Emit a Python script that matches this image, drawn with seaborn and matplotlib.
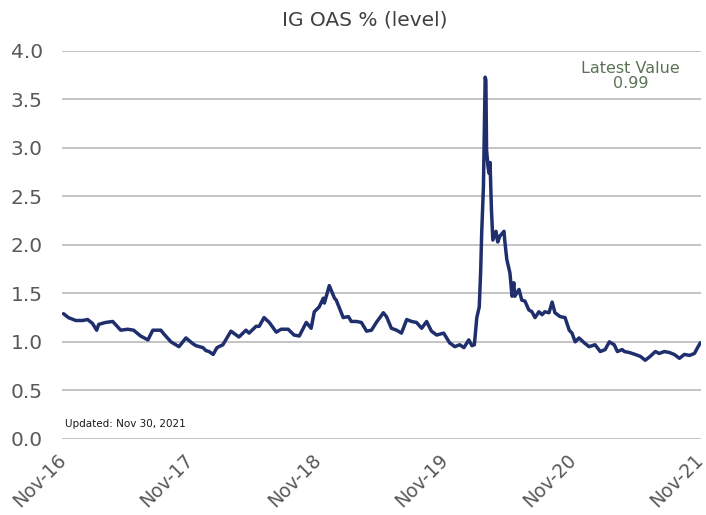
import pandas as pd
import seaborn as sns
import matplotlib.pyplot as plt
from matplotlib.transforms import ScaledTranslation

dates = [
    '2016-11-30', '2016-12-14', '2017-01-04', '2017-01-24', '2017-02-07', '2017-02-21',
    '2017-03-05', '2017-03-11', '2017-03-31', '2017-04-20', '2017-05-13', '2017-06-02',
    '2017-06-19', '2017-07-09', '2017-07-30', '2017-08-13', '2017-09-05', '2017-09-14',
    '2017-10-04', '2017-10-27', '2017-11-16', '2017-12-06', '2017-12-15', '2018-01-04',
    '2018-01-12', '2018-01-21', '2018-02-02', '2018-02-13', '2018-03-02', '2018-03-25',
    '2018-04-17', '2018-05-07', '2018-05-16', '2018-06-05', '2018-06-14', '2018-06-28',
    '2018-07-13', '2018-08-02', '2018-08-16', '2018-09-05', '2018-09-22', '2018-10-07',
    '2018-10-27', '2018-11-10', '2018-11-19', '2018-12-03', '2018-12-15', '2018-12-18',
    '2019-01-01', '2019-01-16', '2019-01-21', '2019-02-10', '2019-02-25', '2019-03-05',
    '2019-03-20', '2019-04-03', '2019-04-18', '2019-05-02', '2019-05-16', '2019-06-05',
    '2019-06-14', '2019-06-28', '2019-07-13', '2019-07-27', '2019-08-11', '2019-08-25',
    '2019-09-08', '2019-09-23', '2019-10-07', '2019-10-21', '2019-11-05', '2019-11-25',
    '2019-12-12', '2019-12-27', '2020-01-10', '2020-01-22', '2020-02-05', '2020-02-14',
    '2020-02-21', '2020-02-28', '2020-03-06', '2020-03-10', '2020-03-13', '2020-03-18',
    '2020-03-23', '2020-03-25', '2020-03-27', '2020-03-31', '2020-04-03', '2020-04-06',
    '2020-04-10', '2020-04-14', '2020-04-23', '2020-04-28', '2020-05-04', '2020-05-16',
    '2020-05-18', '2020-05-24', '2020-06-02', '2020-06-08', '2020-06-13', '2020-06-16',
    '2020-06-28', '2020-07-06', '2020-07-15', '2020-07-26', '2020-08-04', '2020-08-13',
    '2020-08-24', '2020-09-02', '2020-09-10', '2020-09-22', '2020-10-01', '2020-10-09',
    '2020-10-24', '2020-11-07', '2020-11-19', '2020-11-27', '2020-12-06', '2020-12-17',
    '2021-01-01', '2021-01-15', '2021-02-01', '2021-02-16', '2021-03-02', '2021-03-14',
    '2021-03-28', '2021-04-06', '2021-04-20', '2021-04-26', '2021-05-10', '2021-05-27',
    '2021-06-11', '2021-06-25', '2021-07-09', '2021-07-24', '2021-08-04', '2021-08-19',
    '2021-09-02', '2021-09-16', '2021-10-01', '2021-10-15', '2021-10-30', '2021-11-13',
    '2021-11-22', '2021-11-30',
]
oas = [
    1.29, 1.25, 1.22, 1.22, 1.23, 1.19,
    1.12, 1.18, 1.20, 1.21, 1.12, 1.13,
    1.12, 1.06, 1.02, 1.12, 1.12, 1.08,
    1.00, 0.95, 1.04, 0.98, 0.96, 0.94,
    0.91, 0.90, 0.87, 0.94, 0.97, 1.11,
    1.05, 1.12, 1.09, 1.16, 1.16, 1.25,
    1.20, 1.10, 1.13, 1.13, 1.07, 1.06,
    1.20, 1.14, 1.31, 1.36, 1.45, 1.40,
    1.58, 1.45, 1.43, 1.25, 1.26, 1.21,
    1.21, 1.20, 1.11, 1.12, 1.20, 1.30,
    1.26, 1.14, 1.12, 1.09, 1.23, 1.21,
    1.20, 1.14, 1.21, 1.11, 1.07, 1.09,
    0.99, 0.95, 0.97, 0.94, 1.02, 0.96,
    0.97, 1.25, 1.36, 1.72, 2.12, 2.60,
    3.73, 3.70, 2.98, 2.81, 2.74, 2.85,
    2.36, 2.05, 2.14, 2.03, 2.09, 2.14,
    2.05, 1.85, 1.71, 1.47, 1.61, 1.47,
    1.54, 1.43, 1.42, 1.33, 1.31, 1.25,
    1.31, 1.28, 1.31, 1.30, 1.41, 1.30,
    1.26, 1.25, 1.12, 1.09, 1.00, 1.04,
    0.99, 0.95, 0.97, 0.90, 0.92, 1.00,
    0.97, 0.90, 0.92, 0.90, 0.89, 0.87,
    0.85, 0.81, 0.85, 0.90, 0.88, 0.90,
    0.89, 0.87, 0.83, 0.87, 0.86, 0.88,
    0.94, 0.99,
]
tick_dates = ['2016-11-30', '2017-11-30', '2018-11-30', '2019-11-30', '2020-11-30', '2021-11-30']
tick_labels = ['Nov-16', 'Nov-17', 'Nov-18', 'Nov-19', 'Nov-20', 'Nov-21']
latest_value = 0.99

df = pd.DataFrame({'date': pd.to_datetime(dates), 'oas': oas})

sns.set_style('white')
plt.rcParams['font.family'] = ['DejaVu Sans']

fig = plt.figure(figsize=(7.06, 5.15), dpi=100)
ax = fig.add_axes([0.088, 0.148, 0.905, 0.753])

sns.lineplot(data=df, x='date', y='oas', ax=ax, color='#1f2f6e', linewidth=2.5)

ax.set_ylim(0, 4.0)
ax.set_yticks([0.0, 0.5, 1.0, 1.5, 2.0, 2.5, 3.0, 3.5, 4.0])
ax.set_yticklabels([f'{v:.1f}' for v in ax.get_yticks()], fontsize=14.5, color='#595959')
ax.set_xlim(pd.Timestamp('2016-11-26'), pd.Timestamp('2021-12-02'))
ax.set_xticks(pd.to_datetime(tick_dates))
ax.set_xticklabels(tick_labels, rotation=45, ha='right', rotation_mode='anchor',
                   fontsize=13.5, color='#595959')
ax.tick_params(axis='y', length=0, pad=14)
ax.tick_params(axis='x', length=0, pad=8)
# nudge the rotated labels left so the last one stays inside the figure
shift = ScaledTranslation(-0.07, 0, fig.dpi_scale_trans)
for lbl in ax.get_xticklabels():
    lbl.set_transform(lbl.get_transform() + shift)
ax.set_xlabel('')
ax.set_ylabel('')
ax.grid(axis='y', color='#bfbfbf', linewidth=1.3)
ax.set_axisbelow(True)
for s in ax.spines.values():
    s.set_visible(False)

fig.text(365 / 706, 1 - 20 / 515, 'IG OAS % (level)', ha='center', va='center',
         fontsize=14.5, color='#404040')
ax.text(0.89, 0.975, f'Latest Value\n{latest_value:.2f}', transform=ax.transAxes,
        ha='center', va='top', fontsize=11.5, color='#5b7355', linespacing=1.05)
ax.text(0.005, 0.025, 'Updated: Nov 30, 2021', transform=ax.transAxes,
        ha='left', va='bottom', fontsize=7.5, color='#1a1a1a')

plt.savefig('out.png', dpi=100)
